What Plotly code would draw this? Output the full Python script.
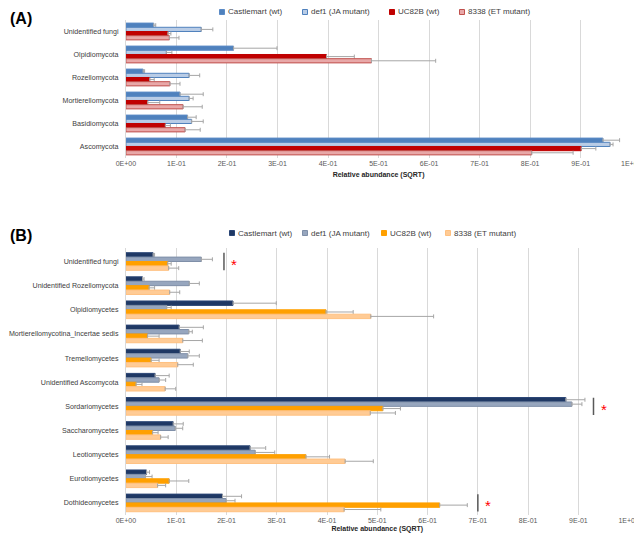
import plotly.graph_objects as go

# --- Daten Panel A (Phyla) ---
cats_a = ['Unidentified fungi', 'Olpidiomycota', 'Rozellomycota',
          'Mortierellomycota', 'Basidiomycota', 'Ascomycota']
castle_a = [0.055, 0.213, 0.034, 0.107, 0.122, 0.944]
castle_a_se = [0.004, 0.086, 0.003, 0.046, 0.017, 0.033]
def1_a = [0.149, 0.080, 0.125, 0.125, 0.130, 0.958]
def1_a_se = [0.023, 0.011, 0.021, 0.008, 0.023, 0.006]
uc82b_a = [0.083, 0.397, 0.047, 0.043, 0.078, 0.901]
uc82b_a_se = [0.006, 0.055, 0.009, 0.024, 0.010, 0.029]
et_a = [0.086, 0.486, 0.087, 0.113, 0.117, 0.803]
et_a_se = [0.019, 0.127, 0.020, 0.038, 0.030, 0.082]

# --- Daten Panel B (Klassen) ---
cats_b = ['Unidentified fungi', 'Unidentified Rozellomycota', 'Olpidiomycetes',
          'Mortierellomycotina_Incertae sedis', 'Tremellomycetes',
          'Unidentified Ascomycota', 'Sordariomycetes', 'Saccharomycetes',
          'Leotiomycetes', 'Eurotiomycetes', 'Dothideomycetes']
castle_b = [0.054, 0.033, 0.213, 0.106, 0.108, 0.058, 0.875, 0.094, 0.247, 0.041, 0.192]
castle_b_se = [0.003, 0.003, 0.086, 0.048, 0.018, 0.028, 0.038, 0.020, 0.031, 0.006, 0.038]
def1_b = [0.150, 0.126, 0.081, 0.125, 0.123, 0.066, 0.887, 0.098, 0.257, 0.039, 0.199]
def1_b_se = [0.022, 0.020, 0.009, 0.007, 0.023, 0.013, 0.020, 0.015, 0.039, 0.013, 0.018]
uc82b_b = [0.083, 0.046, 0.398, 0.043, 0.050, 0.020, 0.511, 0.053, 0.358, 0.086, 0.624]
uc82b_b_se = [0.007, 0.011, 0.054, 0.023, 0.016, 0.012, 0.035, 0.011, 0.047, 0.039, 0.055]
et_b = [0.085, 0.087, 0.487, 0.113, 0.103, 0.078, 0.486, 0.069, 0.436, 0.063, 0.434]
et_b_se = [0.020, 0.020, 0.125, 0.039, 0.031, 0.021, 0.050, 0.015, 0.056, 0.016, 0.073]

# Signifikanz-Markierungen (Kategorie, x-Position der Linie)
sig_cats = ['Unidentified fungi', 'Sordariomycetes', 'Dothideomycetes']
sig_x = [0.195, 0.930, 0.700]

series_names = ['Castlemart (wt)', 'def1 (JA mutant)', 'UC82B (wt)', '8338 (ET mutant)']
tick_vals = [0, 0.1, 0.2, 0.3, 0.4, 0.5, 0.6, 0.7, 0.8, 0.9, 1.0]
tick_text = ['0E+00', '1E-01', '2E-01', '3E-01', '4E-01', '5E-01',
             '6E-01', '7E-01', '8E-01', '9E-01', '1E+00']

FONT = 'Liberation Sans, Arial'

# Figurgroesse (Seite hat 8px Rand)
W, H = 634, 533

colors_a = [('#4F81BD', '#5B8BC6'), ('#B9CCE6', '#4F81BD'),
            ('#C00000', '#C00000'), ('#E8A8A8', '#C0504D')]
colors_b = [('#1F3864', '#2A4575'), ('#97A6BE', '#7F8FA8'),
            ('#FFA000', '#FFA000'), ('#FFCB95', '#FFC080')]

# Legenden-Positionen in Pixeln (Marker-Mitte x, Zeilenmitte y) wie im Excel-Bild
legend_a_px = [214, 297, 384, 454]
legend_a_y = 4
legend_b_px = [224, 297, 376, 440]
legend_b_y = 225

fig = go.Figure()


def add_panel(cats, vals, ses, colors, xaxis, yaxis):
    for name, v, se, (fill, line) in zip(series_names, vals, ses, colors):
        fig.add_trace(go.Bar(
            x=v, y=cats, orientation='h', name=name, showlegend=False,
            xaxis=xaxis, yaxis=yaxis,
            marker=dict(color=fill, line=dict(color=line, width=1)),
            error_x=dict(type='data', symmetric=False, array=se,
                         arrayminus=[0] * len(se), color='#A6A6A6',
                         thickness=1, width=2),
        ))


def add_legend(xs_px, y_px, colors):
    # kleine Quadrate + Text, wie die Excel-Legende
    yc = 1 - y_px / H
    for name, xp, (fill, line) in zip(series_names, xs_px, colors):
        fig.add_shape(type='rect', xref='paper', yref='paper',
                      x0=(xp - 2.5) / W, x1=(xp + 2.5) / W,
                      y0=yc - 2.5 / H, y1=yc + 2.5 / H,
                      fillcolor=fill, line=dict(color=line, width=1))
        fig.add_annotation(x=(xp + 4) / W, y=yc, xref='paper', yref='paper',
                           text=name, showarrow=False, xanchor='left', yanchor='middle',
                           font=dict(size=8, color='#404040', family=FONT))


add_panel(cats_a, [castle_a, def1_a, uc82b_a, et_a],
          [castle_a_se, def1_a_se, uc82b_a_se, et_a_se], colors_a, 'x', 'y')
add_panel(cats_b, [castle_b, def1_b, uc82b_b, et_b],
          [castle_b_se, def1_b_se, uc82b_b_se, et_b_se], colors_b, 'x2', 'y2')
add_legend(legend_a_px, legend_a_y, colors_a)
add_legend(legend_b_px, legend_b_y, colors_b)

# Signifikanz-Linien und Sterne
for cat, sx in zip(sig_cats, sig_x):
    idx = cats_b.index(cat)
    fig.add_shape(type='line', xref='x2', yref='y2', x0=sx, x1=sx,
                  y0=idx - 0.36, y1=idx + 0.36,
                  line=dict(color='#595959', width=1.5))
    fig.add_annotation(x=sx + 0.02, y=idx, xref='x2', yref='y2', text='*',
                       showarrow=False, font=dict(color='#FF0000', size=15, family=FONT),
                       yshift=-3)

xaxis_style = dict(range=[0, 1.0], tickvals=tick_vals, ticktext=tick_text,
                   showgrid=True, gridcolor='#D9D9D9', gridwidth=1,
                   zeroline=False, tickfont=dict(size=7, color='#595959', family=FONT),
                   ticks='', automargin=False, fixedrange=True)
yaxis_style = dict(autorange='reversed', showgrid=False,
                   showline=True, linecolor='#D9D9D9', automargin=False,
                   tickfont=dict(size=7.1, color='#404040', family=FONT),
                   ticks='', ticklabelstandoff=5)

fig.update_layout(
    width=W, height=H,
    margin=dict(l=0, r=0, t=0, b=0),
    barmode='group', bargap=0.27, bargroupgap=0,
    plot_bgcolor='white', paper_bgcolor='white',
    showlegend=False,
    xaxis=dict(**xaxis_style, domain=[0.186, 0.983], anchor='y',
               title=dict(text='<b>Relative abundance (SQRT)</b>',
                          font=dict(size=7, color='#262626', family=FONT), standoff=6)),
    yaxis=dict(**yaxis_style, domain=[0.7186, 0.9775], anchor='x'),
    xaxis2=dict(**xaxis_style, domain=[0.186, 0.979], anchor='y2',
                title=dict(text='<b>Relative abundance (SQRT)</b>',
                           font=dict(size=7, color='#262626', family=FONT), standoff=3)),
    yaxis2=dict(**yaxis_style, domain=[0.0488, 0.5497], anchor='x2'),
)

# Panel-Beschriftungen
fig.add_annotation(x=0.0, y=1.0, xref='paper', yref='paper', text='<b>(A)</b>',
                   showarrow=False, xanchor='left', yanchor='top',
                   font=dict(size=16, color='#000000', family='Liberation Sans'))
fig.add_annotation(x=0.0, y=0.574, xref='paper', yref='paper', text='<b>(B)</b>',
                   showarrow=False, xanchor='left', yanchor='middle',
                   font=dict(size=16, color='#000000', family='Liberation Sans'))

fig.write_html("out.html")
